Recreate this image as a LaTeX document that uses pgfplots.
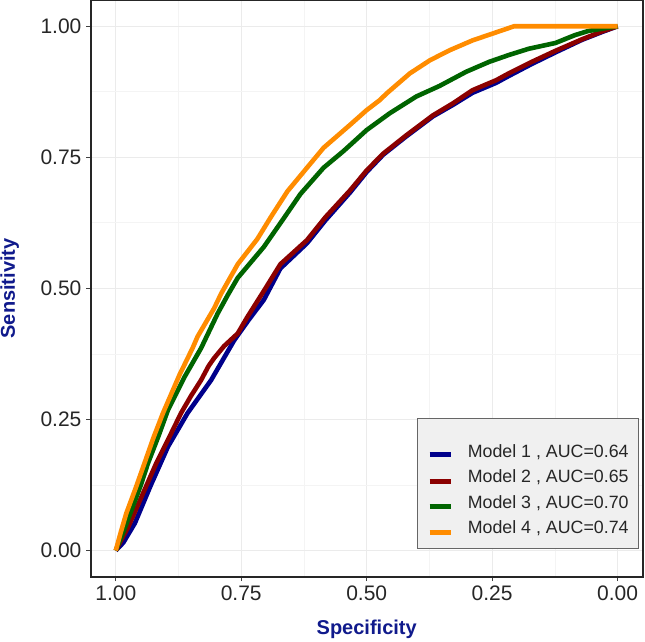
\documentclass[border=0pt]{standalone}
\usepackage{fontspec}
\setmainfont{Liberation Sans}
\usepackage{pgfplots}
\pgfplotsset{compat=1.18}
\definecolor{mone}{HTML}{00008B}
\definecolor{mtwo}{HTML}{8B0000}
\definecolor{mthree}{HTML}{006400}
\definecolor{mfour}{HTML}{FF8C00}
\definecolor{labblue}{HTML}{101A8C}
\definecolor{gridc}{HTML}{EBEBEB}
\definecolor{gridm}{HTML}{F4F4F4}
\definecolor{legfill}{HTML}{F0F0F0}
\pgfplotsset{firstimg/.style={legend image code/.code={\draw[##1, line width=5pt] (0pt,-9pt) -- (21.6pt,-9pt);}}}
\begin{document}
\begin{tikzpicture}
\path[use as bounding box] (-90.7pt,-64.3pt) rectangle (554.3pt,576.7pt);
\begin{axis}[
  at={(0pt,0pt)}, anchor=south west,
  scale only axis, width=552pt, height=576.7pt,
  x dir=reverse, xmin=-0.05, xmax=1.05, ymin=-0.05, ymax=1.05,
  xtick={0,0.25,0.5,0.75,1}, xticklabels={0.00,0.25,0.50,0.75,1.00},
  ytick={0,0.25,0.5,0.75,1}, yticklabels={0.00,0.25,0.50,0.75,1.00},
  minor xtick={0.125,0.375,0.625,0.875},
  minor ytick={0.125,0.375,0.625,0.875},
  grid=both,
  major grid style={color=gridc, line width=1.2pt},
  minor grid style={color=gridm, line width=0.7pt},
  xtick pos=bottom, ytick pos=left, tick align=outside,
  major tick length=4.5pt, minor tick length=0pt,
  every tick/.style={black!75, line width=1pt},
  axis line style={black!85, line width=1.8pt},
  ticklabel style={font=\fontsize{21}{25}\selectfont, text=black!85, inner sep=0pt},
  xticklabel style={anchor=north, yshift=-4.5pt},
  yticklabel style={anchor=east, xshift=-4.6pt},
  xlabel={Specificity}, ylabel={Sensitivity},
  label style={font=\fontsize{20}{24}\selectfont\bfseries, text=labblue, inner sep=0pt},
  xlabel style={at={(axis description cs:0.5,-0.0751)}, anchor=north},
  ylabel style={at={(axis description cs:-0.1295,0.5)}, anchor=south},
  legend style={at={(axis description cs:0.9933,0.048)}, anchor=south east,
    fill=legfill, draw=black!60, line width=0.8pt,
    font=\fontsize{17.8}{20}\selectfont, text=black!85,
    inner xsep=10pt, inner ysep=12pt, row sep=9.5pt, column sep=14pt,
    nodes={inner sep=0pt, text height=13pt, text depth=3pt}},
  legend cell align=left,
  legend image code/.code={\draw[#1, line width=5pt] (0pt,-3.5pt) -- (21.6pt,-3.5pt);},
  every axis plot/.append style={line width=4.6pt, line join=round},
]
\addplot[mone, firstimg] coordinates {
(1.000,0.000) (0.985,0.015) (0.962,0.052) (0.930,0.125) (0.896,0.198)
(0.857,0.262) (0.810,0.325) (0.764,0.401) (0.735,0.440) (0.705,0.478)
(0.672,0.538) (0.619,0.586) (0.582,0.630) (0.533,0.683) (0.500,0.722)
(0.467,0.755) (0.421,0.790) (0.368,0.828) (0.328,0.850) (0.289,0.873)
(0.242,0.892) (0.217,0.905) (0.171,0.928) (0.124,0.950) (0.071,0.974)
(0.031,0.989) (0.000,1.000)};
\addlegendentry[text height=26.8pt]{Model 1 , AUC=0.64}
\addplot[mtwo] coordinates {
(1.000,0.000) (0.988,0.022) (0.975,0.045) (0.943,0.115) (0.920,0.165)
(0.896,0.211) (0.870,0.262) (0.850,0.295) (0.830,0.325) (0.815,0.352)
(0.804,0.367) (0.784,0.390) (0.757,0.414) (0.738,0.445) (0.705,0.495)
(0.672,0.546) (0.619,0.592) (0.582,0.636) (0.533,0.687) (0.500,0.725)
(0.467,0.757) (0.421,0.792) (0.368,0.830) (0.328,0.853) (0.289,0.878)
(0.242,0.897) (0.217,0.910) (0.171,0.932) (0.124,0.953) (0.071,0.975)
(0.031,0.990) (0.000,1.000)};
\addlegendentry{Model 2 , AUC=0.65}
\addplot[mthree] coordinates {
(1.000,0.000) (0.985,0.035) (0.966,0.084) (0.950,0.125) (0.936,0.166)
(0.915,0.218) (0.896,0.268) (0.863,0.331) (0.830,0.386) (0.797,0.452)
(0.777,0.487) (0.757,0.520) (0.705,0.579) (0.665,0.634) (0.632,0.680)
(0.586,0.730) (0.546,0.762) (0.500,0.802) (0.454,0.834) (0.401,0.866)
(0.355,0.886) (0.302,0.913) (0.256,0.932) (0.217,0.945) (0.177,0.957)
(0.124,0.968) (0.085,0.983) (0.058,0.991) (0.000,1.000)};
\addlegendentry{Model 3 , AUC=0.70}
\addplot[mfour] coordinates {
(1.000,0.000) (0.990,0.035) (0.979,0.071) (0.960,0.120) (0.943,0.166)
(0.925,0.215) (0.906,0.262) (0.873,0.335) (0.847,0.386) (0.837,0.408)
(0.804,0.462) (0.790,0.490) (0.757,0.546) (0.718,0.594) (0.691,0.636)
(0.658,0.685) (0.632,0.715) (0.619,0.730) (0.586,0.768) (0.533,0.812)
(0.500,0.840) (0.474,0.859) (0.460,0.872) (0.414,0.910) (0.374,0.935)
(0.335,0.954) (0.289,0.973) (0.249,0.986) (0.206,1.000) (0.000,1.000)};
\addlegendentry{Model 4 , AUC=0.74}
\end{axis}
\end{tikzpicture}
\end{document}
